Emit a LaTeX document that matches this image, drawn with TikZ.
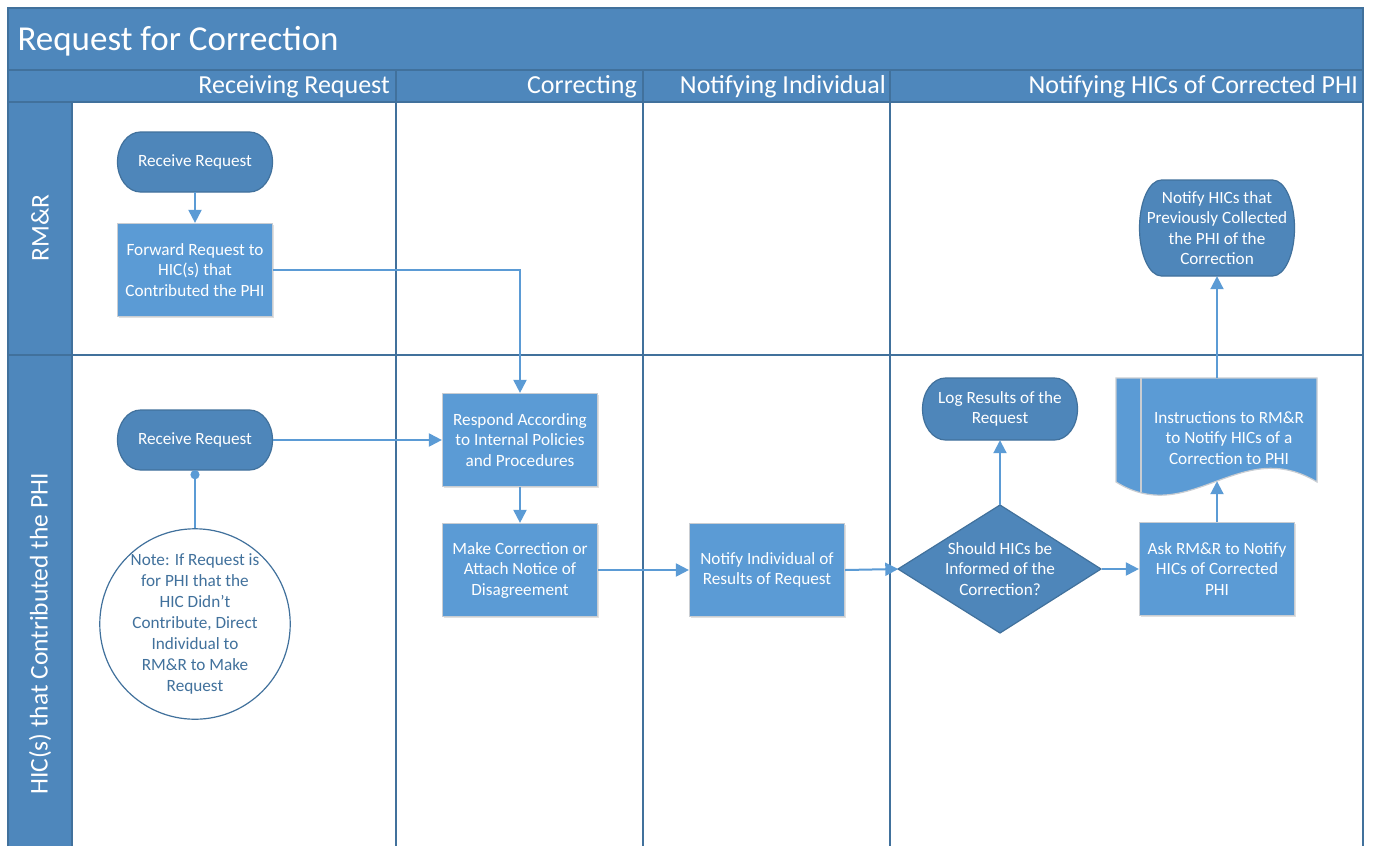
\documentclass[tikz,border=0pt]{standalone}
\usepackage{fontspec}
\setmainfont{Carlito}
\usetikzlibrary{arrows.meta,shadows}

\definecolor{band}{HTML}{4E87BC}
\definecolor{frameline}{HTML}{41719C}
\definecolor{procfill}{HTML}{5B9BD5}
\definecolor{procline}{HTML}{C9CDD2}
\definecolor{termfill}{HTML}{4E86BA}
\definecolor{flow}{HTML}{5B9BD5}
\definecolor{notetext}{HTML}{41719C}

\tikzset{
  boxtext/.style={font=\fontsize{17.2}{20.5}\selectfont, text=white, align=center},
  procbox/.style={boxtext, rectangle, fill=procfill, draw=procline, line width=1.2pt,
    minimum width=155pt, minimum height=93pt, inner sep=0pt,
    general shadow={fill=black, opacity=0.12, shadow xshift=1.5pt, shadow yshift=-1.5pt}},
  termnode/.style={boxtext, rectangle, draw=none, inner sep=0pt, minimum width=155pt},
  termshape/.style={fill=termfill, draw=frameline, line width=1.2pt},
  lanerule/.style={draw=frameline, line width=1.5pt},
  titletext/.style={font=\fontsize{35}{40}\selectfont, text=white},
  headtext/.style={font=\fontsize{26}{30}\selectfont, text=white, anchor=east, inner sep=0pt},
  lanetext/.style={font=\fontsize{25.5}{30}\selectfont, text=white, rotate=90, inner sep=0pt},
  flowline/.style={draw=flow, line width=2pt},
  flowarrow/.style={flowline, -{Triangle[width=13pt,length=13pt]}},
}

% terminator outline: centre x, centre y, width, height, end radius
\newcommand\termpath[5]{%
  \filldraw[termshape] ({#1-#3/2+#5},{#2-#4/2}) -- ({#1+#3/2-#5},{#2-#4/2})
    arc[start angle=-90, end angle=90, x radius=#5, y radius=#4/2]
    -- ({#1-#3/2+#5},{#2+#4/2})
    arc[start angle=90, end angle=270, x radius=#5, y radius=#4/2] -- cycle;}

\begin{document}
\begin{tikzpicture}[x=1pt,y=-1pt]
\useasboundingbox (0,0) rectangle (1373,846);

% pool: title band, phase header, lane headers
\fill[white] (8,102) rectangle (1363,846);
\fill[band] (8,8) rectangle (1363,102);
\fill[band] (8,102) rectangle (72,846);
\draw[lanerule] (8,846) -- (8,8) -- (1363,8) -- (1363,846);
\draw[lanerule] (8,70) -- (1363,70);
\draw[lanerule] (8,102) -- (1363,102);
\draw[lanerule] (8,355) -- (1363,355);
\draw[lanerule] (72,102) -- (72,846);
\draw[lanerule] (396,70) -- (396,846);
\draw[lanerule] (643,70) -- (643,846);
\draw[lanerule] (890,70) -- (890,846);

\node[titletext, anchor=west] (title) at (14,41.5) {Request for Correction};
\node[headtext] (ph1) at (390,87) {Receiving Request};
\node[headtext] (ph2) at (637,87) {Correcting};
\node[headtext] (ph3) at (886,87) {Notifying Individual};
\node[headtext] (ph4) at (1358,87) {Notifying HICs of Corrected PHI};
\node[lanetext] (lane1) at (40,228) {RM\&R};
\node[lanetext] (lane2) at (40,634) {HIC(s) that Contributed the PHI};

% RM&R lane
\termpath{195}{162}{155}{60}{23}
\node[termnode, minimum height=60pt] (rr1) at (195,162) {Receive Request};
\node[procbox] (fwd) at (195,270) {Forward Request to\\HIC(s) that\\Contributed the PHI};
\termpath{1217}{228}{155}{96}{22}
\node[termnode, minimum height=96pt] (hics) at (1217,228)
  {Notify HICs that\\Previously Collected\\the PHI of the\\Correction};

% HIC lane
\termpath{195}{440}{155}{60}{23}
\node[termnode, minimum height=60pt] (rr2) at (195,440) {Receive Request};
\node[circle, draw=frameline, fill=white, line width=1.2pt, minimum size=186pt, inner sep=0pt,
  font=\fontsize{17.2}{21}\selectfont, text=notetext, align=center] (note) at (195,624)
  {Note: If Request is\\for PHI that the\\HIC Didn’t\\Contribute, Direct\\Individual to\\RM\&R to Make\\Request};
\node[procbox] (respond) at (520,440) {Respond According\\to Internal Policies\\and Procedures};
\node[procbox] (correct) at (520,570) {Make Correction or\\Attach Notice of\\Disagreement};
\node[procbox] (notify) at (767,570) {Notify Individual of\\Results of Request};
\termpath{1000}{409}{155}{62}{23}
\node[termnode, minimum height=62pt] (log) at (1000,409) {Log Results of the\\Request};
\filldraw[termshape] (898,569) -- (1000,505) -- (1101,569) -- (1000,633) -- cycle;
\node[termnode, minimum width=203pt, minimum height=128pt] (decide) at (1000,569)
  {Should HICs be\\Informed of the\\Correction?};
\node[procbox] (ask) at (1217,569) {Ask RM\&R to Notify\\HICs of Corrected\\PHI};

% instruction document with a bound left edge and a wavy foot
\filldraw[fill=procfill, draw=procline, line width=1.2pt]
  (1116,378) -- (1317,378) -- (1317,482)
  .. controls (1240,435) and (1190,528) .. (1116,482) -- cycle;
\draw[procline, line width=1.2pt] (1141,378) -- (1141,492);
\node[rectangle, draw=none, minimum width=201pt, minimum height=103pt, inner sep=0pt] (doc) at (1217,429.5) {};
\node[boxtext] (doctext) at (1229,438) {Instructions to RM\&R\\to Notify HICs of a\\Correction to PHI};

% flow connectors
\draw[flowarrow] (rr1.south) -- (fwd.north);
\draw[flowarrow] (fwd.east) -| (respond.north);
\draw[flowarrow] (rr2.east) -- (respond.west);
\draw[flowline, {Circle[length=9pt, fill=flow]}-] (rr2.south) -- (note.north);
\draw[flowarrow] (respond.south) -- (correct.north);
\draw[flowarrow] (correct.east) -- (notify.west);
\draw[flowarrow] (notify.east) -- (decide.west);
\draw[flowarrow] (decide.north) -- (log.south);
\draw[flowarrow] (decide.east) -- (ask.west);
\draw[flowarrow] (ask.north) -- (doc.south);
\draw[flowarrow] (doc.north) -- (hics.south);
\end{tikzpicture}
\end{document}
